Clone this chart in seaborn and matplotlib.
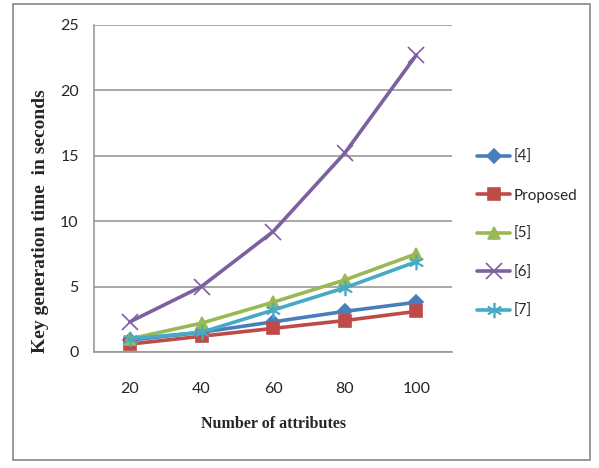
import pandas as pd
import matplotlib
matplotlib.use('Agg')
import matplotlib.pyplot as plt
from matplotlib.ticker import FixedLocator
from matplotlib.patches import Rectangle
import seaborn as sns

# 데이터
attributes = ['20', '40', '60', '80', '100']
series_names = ['[4]', 'Proposed', '[5]', '[6]', '[7]']
ref4 = [0.9, 1.5, 2.3, 3.1, 3.8]
proposed = [0.6, 1.2, 1.8, 2.4, 3.1]
ref5 = [1.0, 2.2, 3.8, 5.5, 7.5]
ref6 = [2.3, 5.0, 9.2, 15.2, 22.7]
ref7 = [1.0, 1.5, 3.2, 4.9, 6.9]
y_ticks = [0, 5, 10, 15, 20, 25]

values = [ref4, proposed, ref5, ref6, ref7]
df = pd.DataFrame({
    'attr': attributes * len(series_names),
    'time': [v for s in values for v in s],
    'series': [n for n in series_names for _ in attributes],
})

colors = ['#4A7EBB', '#BE4B48', '#98B954', '#7D60A0', '#46AAC5']
markers = ['D', 's', '^', 'x', (6, 2, 0)]
msizes = [7, 9, 9, 11, 11]

sns.set_style('white')
plt.rcParams['font.family'] = ['Lato', 'DejaVu Sans']

fig = plt.figure(figsize=(5.99, 4.68), dpi=100)
ax = fig.add_axes([0.157, 0.248, 0.598, 0.699])

for name, c, m, ms in zip(series_names, colors, markers, msizes):
    sub = df[df['series'] == name]
    sns.lineplot(data=sub, x='attr', y='time', ax=ax, color=c, lw=2.6,
                 marker=m, markersize=ms, markeredgecolor=c, markeredgewidth=1.2,
                 label=name, sort=False)

ax.set_xlim(-0.5, 4.5)
ax.set_ylim(0, 25)
ax.yaxis.set_major_locator(FixedLocator(y_ticks))
ax.grid(axis='y', color='#999999', lw=1.2)
ax.set_axisbelow(True)
for s in ['top', 'right']:
    ax.spines[s].set_visible(False)
for s in ['left', 'bottom']:
    ax.spines[s].set_color('#999999')
    ax.spines[s].set_linewidth(1.2)
ax.xaxis.set_minor_locator(FixedLocator([-0.5, 0.5, 1.5, 2.5, 3.5, 4.5]))
ax.tick_params(axis='x', which='major', length=0, pad=22, labelsize=11.5)
ax.tick_params(axis='x', which='minor', length=6, color='#999999', width=1.2)
ax.tick_params(axis='y', length=5, color='#999999', width=1.2, labelsize=11.5, pad=6)

ax.set_xlabel('Number of attributes', family='Liberation Serif',
              fontweight='bold', fontsize=11.5, labelpad=14)
ax.set_ylabel('Key generation time  in seconds', family='Liberation Serif',
              fontweight='bold', fontsize=14)
ax.yaxis.set_label_coords(-0.125, 0.40)

leg = ax.legend(loc='center left', bbox_to_anchor=(1.03, 0.36), frameon=False,
                fontsize=11, labelspacing=1.6, handlelength=2.2, handletextpad=0.2)

fig.patches.append(Rectangle((0.022, 0.017), 0.963, 0.975, transform=fig.transFigure,
                             fill=False, edgecolor='#888888', lw=1.2))

fig.savefig('out.png', dpi=100)
